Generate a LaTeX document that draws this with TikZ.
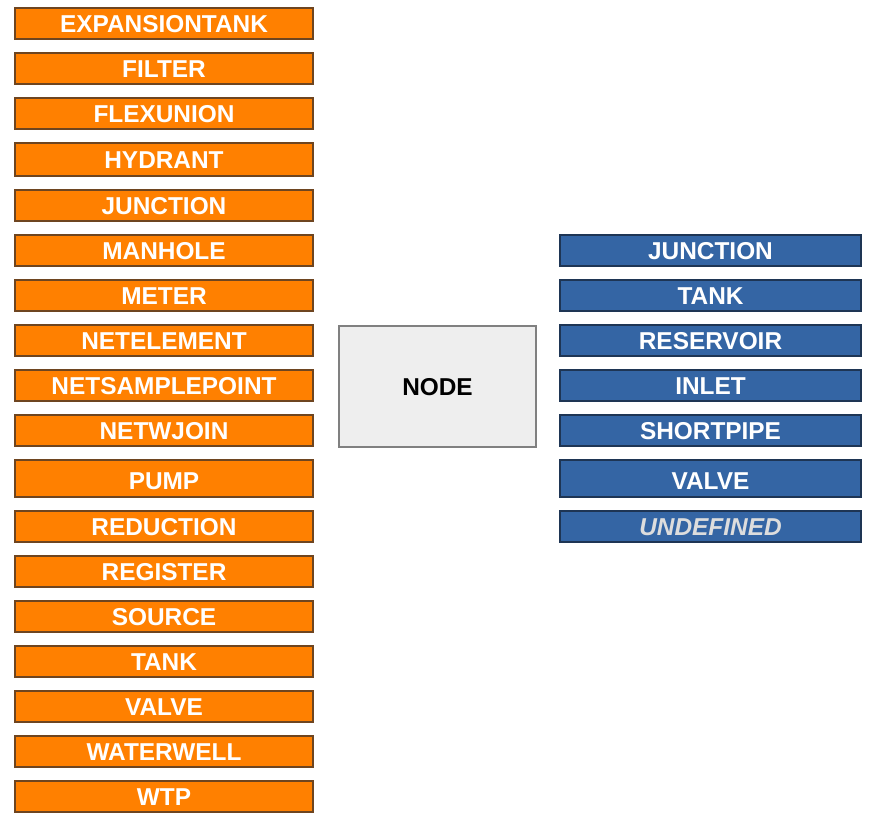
\documentclass[tikz,border=0pt]{standalone}
\usepackage{fontspec}
\setmainfont{Liberation Sans}
\definecolor{orfill}{HTML}{FF8000}
\definecolor{ordraw}{HTML}{6E4520}
\definecolor{blfill}{HTML}{3465A4}
\definecolor{bldraw}{HTML}{1E3554}
\definecolor{ndfill}{HTML}{EEEEEE}
\definecolor{nddraw}{HTML}{808080}
\definecolor{undef}{HTML}{DDDDDD}
\tikzset{
  boxfont/.style={font=\bfseries\fontsize{18.3}{20}\selectfont},
  lbox/.style={draw=ordraw, fill=orfill, line width=0.85pt, minimum width=223.5pt, minimum height=23.25pt, inner sep=0pt, text=white, text height=13.9pt, text depth=0pt, boxfont},
  rbox/.style={draw=bldraw, fill=blfill, line width=0.85pt, minimum width=225.75pt, minimum height=23.25pt, inner sep=0pt, text=white, text height=13.9pt, text depth=0pt, boxfont},
  nbox/.style={draw=nddraw, fill=ndfill, line width=0.85pt, minimum width=147.75pt, minimum height=90.75pt, inner sep=0pt, text=black, text height=13.9pt, text depth=0pt, boxfont},
  tallbox/.style={minimum height=27.75pt, text height=16.9pt},
}
\begin{document}
\begin{tikzpicture}[x=0.75pt, y=-0.75pt]
\useasboundingbox (0,0) rectangle (895,830);
\node[lbox] (l1) at (164,23.5) {EXPANSIONTANK};
\node[lbox] (l2) at (164,68.5) {FILTER};
\node[lbox] (l3) at (164,113.5) {FLEXUNION};
\node[lbox, minimum height=24.75pt] (l4) at (164,159.5) {HYDRANT};
\node[lbox] (l5) at (164,205.5) {JUNCTION};
\node[lbox] (l6) at (164,250.5) {MANHOLE};
\node[lbox] (l7) at (164,295.5) {METER};
\node[lbox] (l8) at (164,340.5) {NETELEMENT};
\node[lbox] (l9) at (164,385.5) {NETSAMPLEPOINT};
\node[lbox] (l10) at (164,430.5) {NETWJOIN};
\node[lbox, tallbox] (l11) at (164,478.5) {PUMP};
\node[lbox] (l12) at (164,526.5) {REDUCTION};
\node[lbox] (l13) at (164,571.5) {REGISTER};
\node[lbox] (l14) at (164,616.5) {SOURCE};
\node[lbox] (l15) at (164,661.5) {TANK};
\node[lbox] (l16) at (164,706.5) {VALVE};
\node[lbox] (l17) at (164,751.5) {WATERWELL};
\node[lbox] (l18) at (164,796.5) {WTP};
\node[nbox] (node) at (437.5,386.5) {NODE};
\node[rbox] (r1) at (710.5,250.5) {JUNCTION};
\node[rbox] (r2) at (710.5,295.5) {TANK};
\node[rbox] (r3) at (710.5,340.5) {RESERVOIR};
\node[rbox] (r4) at (710.5,385.5) {INLET};
\node[rbox] (r5) at (710.5,430.5) {SHORTPIPE};
\node[rbox, tallbox] (r6) at (710.5,478.5) {VALVE};
\node[rbox, text=undef, font=\bfseries\itshape\fontsize{18.3}{20}\selectfont] (r7) at (710.5,526.5) {UNDEFINED};
\end{tikzpicture}
\end{document}
